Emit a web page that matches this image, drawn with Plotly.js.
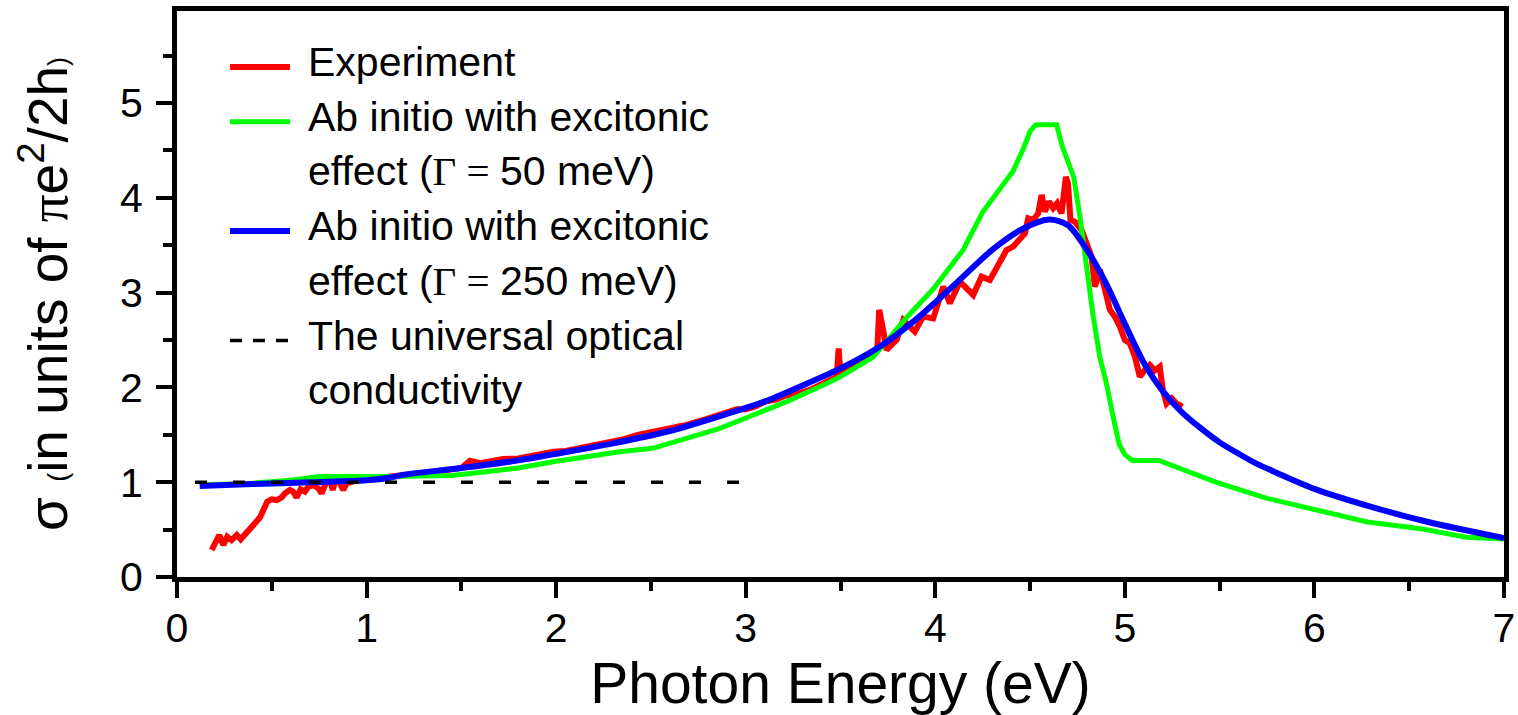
<!DOCTYPE html>
<html>
<head>
<meta charset="utf-8">
<script src="https://cdn.plot.ly/plotly-3.0.1.min.js"></script>
<style>html,body{margin:0;padding:0;background:#fff;}#chart{width:1518px;height:715px;}</style>
</head>
<body>
<div id="chart"></div>
<script>
// Experiment (red)
var expX = [0.183,0.20,0.223,0.244,0.265,0.288,0.315,0.336,0.359,0.385,0.411,0.438,0.455,0.476,0.499,0.526,0.552,0.57,0.596,0.613,0.631,0.652,0.675,0.693,0.719,0.745,0.763,0.781,0.803,0.821,0.842,0.86,0.877,0.895,0.921,0.95,1.0,1.05,1.1,1.15,1.2,1.25,1.3,1.35,1.4,1.45,1.5,1.545,1.6,1.65,1.72,1.8,1.85,1.9,1.985,2.05,2.1,2.17,2.248,2.3,2.35,2.43,2.51,2.6,2.68,2.776,2.85,2.952,3.0,3.05,3.1,3.16,3.216,3.233,3.3,3.339,3.427,3.48,3.49,3.50,3.585,3.655,3.694,3.704,3.725,3.743,3.796,3.831,3.892,3.936,3.989,4.042,4.077,4.13,4.20,4.244,4.288,4.341,4.376,4.411,4.446,4.473,4.49,4.516,4.543,4.561,4.578,4.60,4.622,4.643,4.666,4.689,4.70,4.713,4.736,4.772,4.798,4.824,4.842,4.868,4.895,4.921,4.947,4.974,5.0,5.026,5.053,5.079,5.105,5.132,5.158,5.184,5.20,5.22,5.247,5.272,5.304];
var expY = [0.285,0.355,0.443,0.338,0.425,0.39,0.443,0.397,0.443,0.514,0.566,0.63,0.707,0.794,0.82,0.812,0.84,0.883,0.918,0.90,0.84,0.925,0.90,0.952,0.97,0.935,0.883,0.988,1.076,0.918,1.058,0.988,0.918,0.988,1.005,1.02,1.03,1.04,1.05,1.06,1.07,1.08,1.09,1.105,1.12,1.135,1.15,1.227,1.20,1.215,1.245,1.25,1.27,1.29,1.322,1.33,1.35,1.385,1.41,1.43,1.45,1.5,1.533,1.56,1.6,1.656,1.70,1.769,1.77,1.80,1.85,1.87,1.92,1.90,1.95,1.973,2.06,2.11,2.41,2.15,2.27,2.325,2.395,2.817,2.605,2.395,2.50,2.71,2.588,2.746,2.728,3.062,2.887,3.115,2.975,3.168,3.133,3.344,3.449,3.485,3.555,3.625,3.783,3.766,3.836,4.03,3.854,3.96,3.89,3.942,3.836,4.22,4.15,3.766,3.748,3.66,3.52,3.38,3.062,3.24,3.03,2.82,2.746,2.64,2.50,2.465,2.324,2.113,2.18,2.236,2.18,2.218,1.973,1.83,1.885,1.83,1.797];

// Ab initio, Gamma = 50 meV (green)
var g50X = [0.12,0.4,0.6,0.75,1.13,1.3,1.45,1.63,1.8,1.985,2.15,2.336,2.51,2.688,2.864,3.04,3.216,3.39,3.497,3.672,3.75,3.85,3.99,4.077,4.147,4.25,4.34,4.41,4.465,4.50,4.53,4.64,4.67,4.73,4.763,4.798,4.833,4.868,4.903,4.938,4.97,5.0,5.04,5.18,5.31,5.48,5.75,6.0,6.28,6.56,6.8,7.0];
var g50Y = [0.97,0.99,1.02,1.06,1.06,1.06,1.07,1.11,1.15,1.216,1.27,1.322,1.357,1.463,1.568,1.709,1.85,2.007,2.11,2.32,2.50,2.74,3.04,3.27,3.45,3.85,4.08,4.28,4.52,4.70,4.77,4.77,4.54,4.22,3.80,3.27,2.75,2.32,2.04,1.69,1.40,1.29,1.23,1.23,1.13,1.0,0.83,0.71,0.58,0.51,0.42,0.40];

// Ab initio, Gamma = 250 meV (blue)
var g250X = [0.12,0.4,0.7,1.0,1.13,1.2,1.5,1.8,2.0,2.3,2.6,2.9,3.1,3.3,3.5,3.7,3.9,4.1,4.3,4.45,4.6,4.7,4.8,4.9,5.0,5.1,5.2,5.3,5.4,5.5,5.6,5.7,5.8,6.0,6.3,6.6,7.0];
var g250Y = [0.96,0.98,1.0,1.02,1.05,1.08,1.15,1.23,1.30,1.41,1.54,1.72,1.85,2.02,2.20,2.42,2.72,3.08,3.45,3.66,3.77,3.71,3.45,3.10,2.67,2.26,1.96,1.74,1.57,1.42,1.30,1.19,1.10,0.93,0.74,0.58,0.41];

// Universal optical conductivity (dashed)
var uniX = [0.095, 2.97];
var uniY = [1, 1];

// Legend entries (text lines per entry)
var legendLines = [
  ['Experiment'],
  ['Ab initio with excitonic', 'effect (<span style="font-family:\'Liberation Serif\'">Γ = </span>50 meV)'],
  ['Ab initio with excitonic', 'effect (<span style="font-family:\'Liberation Serif\'">Γ = </span>250 meV)'],
  ['The universal optical', 'conductivity']
];
var legendColors = ['#ff0000', '#00ff00', '#0000ff', '#000000'];
var legendWidths = [6, 5, 6, 3.5];
var legendDash = ['solid', 'solid', 'solid', '12px,11px'];

var traces = [
  {x: expX, y: expY, mode: 'lines', name: 'Experiment', line: {color: '#ff0000', width: 6}},
  {x: g50X, y: g50Y, mode: 'lines', name: 'Ab initio with excitonic effect (Γ = 50 meV)', line: {color: '#00ff00', width: 5}},
  {x: g250X, y: g250Y, mode: 'lines', name: 'Ab initio with excitonic effect (Γ = 250 meV)', line: {color: '#0000ff', width: 6, shape: 'spline', smoothing: 0.8}},
  {x: uniX, y: uniY, mode: 'lines', name: 'The universal optical conductivity', line: {color: '#000000', width: 3.5, dash: '12px,26px'}}
];

// pixel helpers for the hand-placed legend (plot area: x 177..1504, y 11..577)
var L = 177, W = 1327, T = 11, H = 566;
function px(x) { return (x - L) / W; }
function py(y) { return (T + H - y) / H; }

var fontFam = '"Liberation Sans", Arial, sans-serif';
var shapes = [], annotations = [];
var lineStep = 54.7, firstBase = 62, lineIdx = 0;
for (var i = 0; i < legendLines.length; i++) {
  var yc = firstBase + lineIdx * lineStep;
  shapes.push({type: 'line', xref: 'paper', yref: 'paper', x0: px(230), x1: px(290), y0: py(yc + 5), y1: py(yc + 5),
    line: {color: legendColors[i], width: legendWidths[i], dash: legendDash[i]}});
  for (var j = 0; j < legendLines[i].length; j++) {
    var yy = firstBase + lineIdx * lineStep;
    annotations.push({xref: 'paper', yref: 'paper', x: px(306), y: py(yy), xanchor: 'left', yanchor: 'middle',
      text: legendLines[i][j], showarrow: false, font: {family: fontFam, size: 41, color: '#000'}});
    lineIdx++;
  }
}

var layout = {
  width: 1518, height: 715,
  margin: {l: 177, r: 14, t: 11, b: 138},
  paper_bgcolor: '#ffffff', plot_bgcolor: '#ffffff',
  font: {family: fontFam, color: '#000000'},
  showlegend: false,
  shapes: shapes,
  annotations: annotations,
  xaxis: {
    range: [0, 7], dtick: 1, tick0: 0,
    showgrid: false, zeroline: false,
    showline: true, linecolor: '#000', linewidth: 5, mirror: true,
    ticks: 'outside', ticklen: 16, tickwidth: 4, tickcolor: '#000',
    ticklabelstandoff: -5,
    minor: {dtick: 0.5, ticks: 'outside', ticklen: 9, tickwidth: 4, tickcolor: '#000', showgrid: false},
    tickfont: {family: fontFam, size: 41, color: '#000'},
    title: {text: 'Photon Energy (eV)', font: {family: fontFam, size: 57, color: '#000'}, standoff: 6}
  },
  yaxis: {
    range: [0, 5.97], dtick: 1, tick0: 0,
    showgrid: false, zeroline: false,
    showline: true, linecolor: '#000', linewidth: 5, mirror: true,
    ticks: 'outside', ticklen: 16, tickwidth: 4, tickcolor: '#000',
    ticklabelstandoff: 5,
    minor: {dtick: 0.5, ticks: 'outside', ticklen: 9, tickwidth: 4, tickcolor: '#000', showgrid: false},
    tickfont: {family: fontFam, size: 41, color: '#000'},
    title: {
      text: 'σ <span style="font-size:27px">(</span>in units of <span style="font-family:\'Liberation Serif\'">π</span>e<sup>2</sup>/2h<span style="font-size:27px">)</span>',
      font: {family: fontFam, size: 55, color: '#000'}, standoff: 36
    }
  }
};

Plotly.newPlot('chart', traces, layout, {displayModeBar: false, staticPlot: true});
</script>
</body>
</html>
